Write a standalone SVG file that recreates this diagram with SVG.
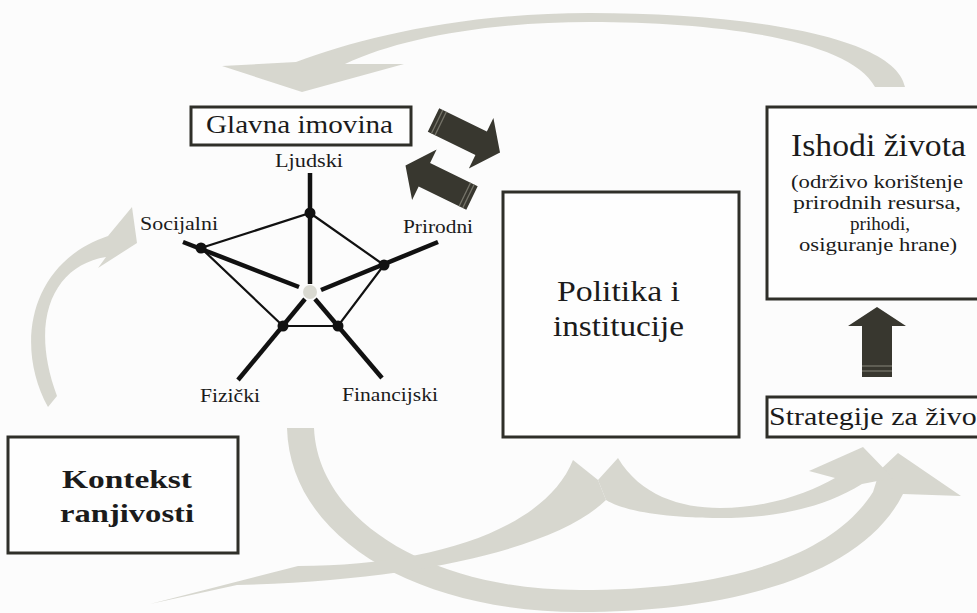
<svg xmlns="http://www.w3.org/2000/svg" width="977" height="613" viewBox="0 0 977 613">
<style>
.bg{fill:#fcfcfc}
.arc{fill:#d7d7cf;stroke:none}
.box{fill:#fefefe;stroke:#2f2f29;stroke-width:3}
.dark{fill:#38372f}
.stripe{stroke:#76756a;stroke-width:1.3}
.t{font-family:"Liberation Serif","Times New Roman",serif;fill:#1b1b1b}
.thin{stroke:#111;stroke-width:2.2;fill:none}
.thick{stroke:#111;stroke-width:4.5;fill:none;stroke-linecap:butt}
.dot{fill:#111}
</style>
<rect class="bg" x="0" y="0" width="977" height="613"/>

<g id="connectors">
  <!-- top arc: outcomes back to assets -->
  <path class="arc" d="M905,87 C895,35 740,13 590,13 C460,13 360,38 296,62 L222,66 L302,92 L404,64 L345,64 C400,38 490,22 590,22 C720,22 850,40 875,87 Z"/>
  <!-- left arc: vulnerability context to assets -->
  <path class="arc" d="M48,407 C14,345 30,262 108,236 L132,207 L137,243 L98,268 L106,257 C55,265 28,318 57,396 Z"/>
  <!-- big U arc: assets to strategies -->
  <path class="arc" d="M287,428 L314,428 C318,520 430,590 580,590 C720,590 830,560 873,492 L880,470 L898,453 L961,496 L903,494 C860,580 720,612 580,612 C420,612 290,540 287,428 Z"/>
  <!-- policies to vulnerability context -->
  <path class="arc" d="M573,460 L598,480 L606,500 C560,545 430,580 237,585 L150,604 L298,566 C430,566 545,530 573,460 Z"/>
  <!-- policies to strategies -->
  <path class="arc" d="M618,458 C640,495 680,508 720,508 C770,508 810,492 835,478 L809,471 L863,447 L893,478 L862,484 C820,510 770,518 720,518 C670,518 625,512 606,500 L598,480 Z"/>

  <!-- dark double arrows between assets and policies -->
  <g transform="translate(433.5,120) rotate(26)">
    <path class="dark" d="M0,-13 L53,-13 L53,-28 L74,0 L53,28 L53,13 L0,13 Z"/>
    <line class="stripe" x1="4" y1="-13" x2="4" y2="13"/>
    <line class="stripe" x1="8" y1="-13" x2="8" y2="13"/>
  </g>
  <g transform="translate(472,198) rotate(206)">
    <path class="dark" d="M0,-13 L53,-13 L53,-28 L74,0 L53,28 L53,13 L0,13 Z"/>
    <line class="stripe" x1="4" y1="-13" x2="4" y2="13"/>
    <line class="stripe" x1="8" y1="-13" x2="8" y2="13"/>
  </g>
  <!-- up arrow strategies to outcomes -->
  <g>
    <path class="dark" d="M877,307 L906,326 L892,326 L892,377 L862,377 L862,326 L848,326 Z"/>
    <line class="stripe" x1="862" y1="366" x2="892" y2="366"/>
    <line class="stripe" x1="862" y1="371" x2="892" y2="371"/>
  </g>
</g>

<g id="glavna-imovina">
  <rect class="box" x="191" y="107" width="220" height="38" stroke-width="2.5"/>
  <text class="t" x="206" y="133" font-size="26" textLength="187" lengthAdjust="spacingAndGlyphs">Glavna imovina</text>
</g>

<g id="asset-pentagon">
  <polygon class="thin" points="310,213 384,265 338,326 283,326 201,248"/>
  <line class="thick" x1="310" y1="173" x2="310" y2="284"/>
  <line class="thick" x1="183" y1="242" x2="299" y2="287"/>
  <line class="thick" x1="438" y1="242" x2="321" y2="290"/>
  <line class="thick" x1="238" y1="380" x2="305" y2="299"/>
  <line class="thick" x1="382" y1="378" x2="315" y2="299"/>
  <circle cx="310" cy="292" r="7" fill="#d9d9d1"/>
  <circle class="dot" cx="310" cy="213" r="5.5"/>
  <circle class="dot" cx="201" cy="248" r="5.5"/>
  <circle class="dot" cx="384" cy="265" r="5.5"/>
  <circle class="dot" cx="283" cy="326" r="5.5"/>
  <circle class="dot" cx="338" cy="326" r="5.5"/>
  <text class="t" x="275" y="167" font-size="18" textLength="68" lengthAdjust="spacingAndGlyphs">Ljudski</text>
  <text class="t" x="140" y="230" font-size="18" textLength="78" lengthAdjust="spacingAndGlyphs">Socijalni</text>
  <text class="t" x="403" y="233" font-size="18" textLength="70" lengthAdjust="spacingAndGlyphs">Prirodni</text>
  <text class="t" x="200" y="402" font-size="18" textLength="60" lengthAdjust="spacingAndGlyphs">Fizički</text>
  <text class="t" x="342" y="401" font-size="18" textLength="96" lengthAdjust="spacingAndGlyphs">Financijski</text>
</g>

<g id="politika-i-institucije">
  <rect class="box" x="503" y="192" width="236" height="245"/>
  <text class="t" x="557" y="301" font-size="30" textLength="123" lengthAdjust="spacingAndGlyphs">Politika i</text>
  <text class="t" x="553" y="336" font-size="30" textLength="131" lengthAdjust="spacingAndGlyphs">institucije</text>
</g>

<g id="ishodi-zivota">
  <rect class="box" x="767" y="107" width="230" height="192"/>
  <text class="t" x="791" y="156" font-size="31" textLength="175" lengthAdjust="spacingAndGlyphs">Ishodi života</text>
  <text class="t" x="791" y="188" font-size="19.5" textLength="172" lengthAdjust="spacingAndGlyphs">(održivo korištenje</text>
  <text class="t" x="793" y="209" font-size="19.5" textLength="168" lengthAdjust="spacingAndGlyphs">prirodnih resursa,</text>
  <text class="t" x="850" y="230" font-size="19.5" textLength="60" lengthAdjust="spacingAndGlyphs">prihodi,</text>
  <text class="t" x="799" y="251" font-size="19.5" textLength="158" lengthAdjust="spacingAndGlyphs">osiguranje hrane)</text>
</g>

<g id="strategije-za-zivot">
  <rect class="box" x="767" y="397" width="230" height="40"/>
  <text class="t" x="769" y="425" font-size="26" textLength="216" lengthAdjust="spacingAndGlyphs">Strategije za život</text>
</g>

<g id="kontekst-ranjivosti">
  <rect class="box" x="8" y="437" width="230" height="116"/>
  <text class="t" x="62" y="488" font-size="26" font-weight="bold" textLength="130" lengthAdjust="spacingAndGlyphs">Kontekst</text>
  <text class="t" x="60" y="522" font-size="26" font-weight="bold" textLength="134" lengthAdjust="spacingAndGlyphs">ranjivosti</text>
</g>
</svg>
